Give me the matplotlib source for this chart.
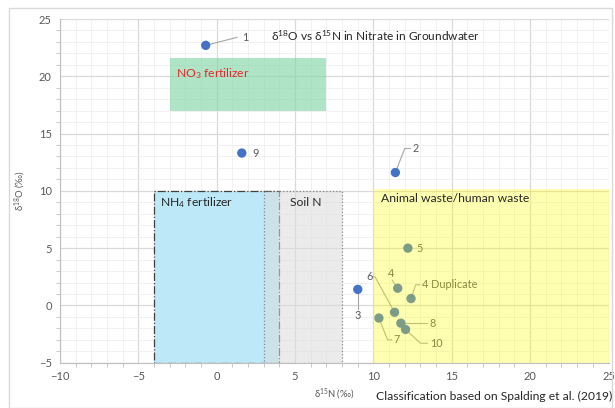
import matplotlib
matplotlib.use("Agg")
import matplotlib.pyplot as plt
from matplotlib.patches import Rectangle
from matplotlib.ticker import MultipleLocator

plt.rcParams['font.family'] = ['Lato', 'DejaVu Sans']
plt.rcParams['mathtext.fontset'] = 'custom'
plt.rcParams['mathtext.rm'] = 'Lato'
plt.rcParams['mathtext.it'] = 'Lato:italic'
plt.rcParams['mathtext.bf'] = 'Lato:bold'

# Sample data (d15N, d18O)
labels = ["1", "2", "3", "4", "4 Duplicate", "5", "6", "7", "8", "9", "10"]
d15N = [-0.7, 11.4, 9.0, 11.55, 12.4, 12.2, 11.35, 10.35, 11.75, 1.6, 12.05]
d18O = [22.7, 11.6, 1.4, 1.5, 0.6, 5.0, -0.6, -1.1, -1.55, 13.3, -2.1]

# label positions (d15N, d18O)
label_pos = {
    "1": (1.6, 23.4), "2": (12.5, 13.7), "3": (9.0, -0.9), "4": (11.1, 2.8),
    "4 Duplicate": (13.1, 1.8), "5": (12.75, 5.0), "6": (9.75, 2.5),
    "7": (11.3, -3.0), "8": (13.55, -1.55), "9": (2.3, 13.3), "10": (13.6, -3.3),
}

# Source boxes: (x0, x1, y0, y1)
no3_box = (-3, 7, 17, 21.6)
nh4_box = (-4, 4, -5, 10)
soil_box = (3, 8, -5, 10)
animal_box = (10, 25, -5, 10.2)

xlim = (-10, 25)
ylim = (-5, 25)

fig = plt.figure(figsize=(6.15, 4.08), dpi=100)
ax = fig.add_axes([60/615, 45.3/408, 548.5/615, 343.7/408])
ax.set_xlim(*xlim)
ax.set_ylim(*ylim)

ax.xaxis.set_major_locator(MultipleLocator(5))
ax.yaxis.set_major_locator(MultipleLocator(5))
ax.xaxis.set_minor_locator(MultipleLocator(1))
ax.yaxis.set_minor_locator(MultipleLocator(1))
ax.grid(which='major', color='#d9d9d9', lw=0.9, zorder=0)
ax.grid(which='minor', color='#efefef', lw=0.6, zorder=0)
ax.set_axisbelow(True)
for s in ['top', 'right']:
    ax.spines[s].set_visible(False)
for s in ['left', 'bottom']:
    ax.spines[s].set_color('#bfbfbf')
    ax.spines[s].set_linewidth(0.8)
ax.tick_params(which='major', length=0, labelsize=8, labelcolor='#595959', pad=6)
ax.tick_params(which='minor', length=3, color='#bfbfbf', direction='out')

def box(b, **kw):
    x0, x1, y0, y1 = b
    r = Rectangle((x0, y0), x1 - x0, y1 - y0, **kw)
    ax.add_patch(r)
    return r

box(no3_box, facecolor='#86d6a8', alpha=0.65, edgecolor='none', zorder=1)
box(nh4_box, facecolor='#bde8f7', edgecolor='#404040', lw=0.9, ls='-.', zorder=1)
box(soil_box, facecolor='#dcdcdc', alpha=0.55, edgecolor='#404040', lw=0.9, ls=':', zorder=1.2)

gray = '#595959'
ax.text(-2.6, 20.2, "NO$_3$ fertilizer", color='#e8262b', fontsize=8.7, va='center', zorder=3)
ax.text(-3.6, 9.0, "NH$_4$ fertilizer", color='#262626', fontsize=8.7, va='center', zorder=3)
ax.text(4.7, 9.0, "Soil N", color='#262626', fontsize=8.7, va='center', zorder=3)
ax.text(10.5, 9.3, "Animal waste/human waste", color='#262626', fontsize=8.7, va='center', zorder=6)

# points and labels
ax.scatter(d15N, d18O, s=45, color='#4472c4', zorder=4, edgecolors='none')
for lab, x, y in zip(labels, d15N, d18O):
    lx, ly = label_pos[lab]
    ha = 'left'
    if lab in ("3", "4", "6"):
        ha = 'center'
    ax.text(lx, ly, lab, fontsize=7.8, color=gray, ha=ha, va='center', zorder=4)

leaders = {
    "1": [(-0.7, 22.7), (1.3, 23.4)],
    "2": [(11.4, 11.6), (12.0, 13.7), (12.35, 13.7)],
    "3": [(9.0, 1.4), (9.0, -0.3)],
    "4": [(11.55, 1.5), (11.2, 2.2)],
    "4 Duplicate": [(12.4, 0.6), (12.7, 1.8), (12.95, 1.8)],
    "6": [(11.35, -0.6), (10.1, 2.5), (9.95, 2.5)],
    "7": [(10.35, -1.1), (10.9, -3.0), (11.15, -3.0)],
    "8": [(11.75, -1.55), (13.4, -1.55)],
    "10": [(12.05, -2.1), (13.0, -3.3), (13.45, -3.3)],
}
for lab, pts in leaders.items():
    xs = [p[0] for p in pts]
    ys = [p[1] for p in pts]
    ax.plot(xs, ys, color='#a6a6a6', lw=0.8, zorder=3.5)

# yellow overlay box drawn above points in it
box(animal_box, facecolor='#ffff00', alpha=0.3, edgecolor='none', zorder=5)

ax.text(10.1, 23.5, "δ$^{18}$O vs δ$^{15}$N in Nitrate in Groundwater", fontsize=8.6,
        color='#262626', ha='center', va='center', zorder=6)

ax.set_xlabel("δ$^{15}$N (‰)", fontsize=6.8, color=gray, labelpad=3)
ax.set_ylabel("δ$^{18}$O (‰)", fontsize=6.8, color=gray, labelpad=8)

fig.text(612/615, 12/408, "Classification based on Spalding et al. (2019)", fontsize=8.7,
         color='#262626', ha='right', va='center')

fig.patches.append(Rectangle((9/615, 0), 603/615, 400/408, transform=fig.transFigure,
                             fill=False, edgecolor='#d9d9d9', lw=1))

fig.savefig("out.png", dpi=100)
